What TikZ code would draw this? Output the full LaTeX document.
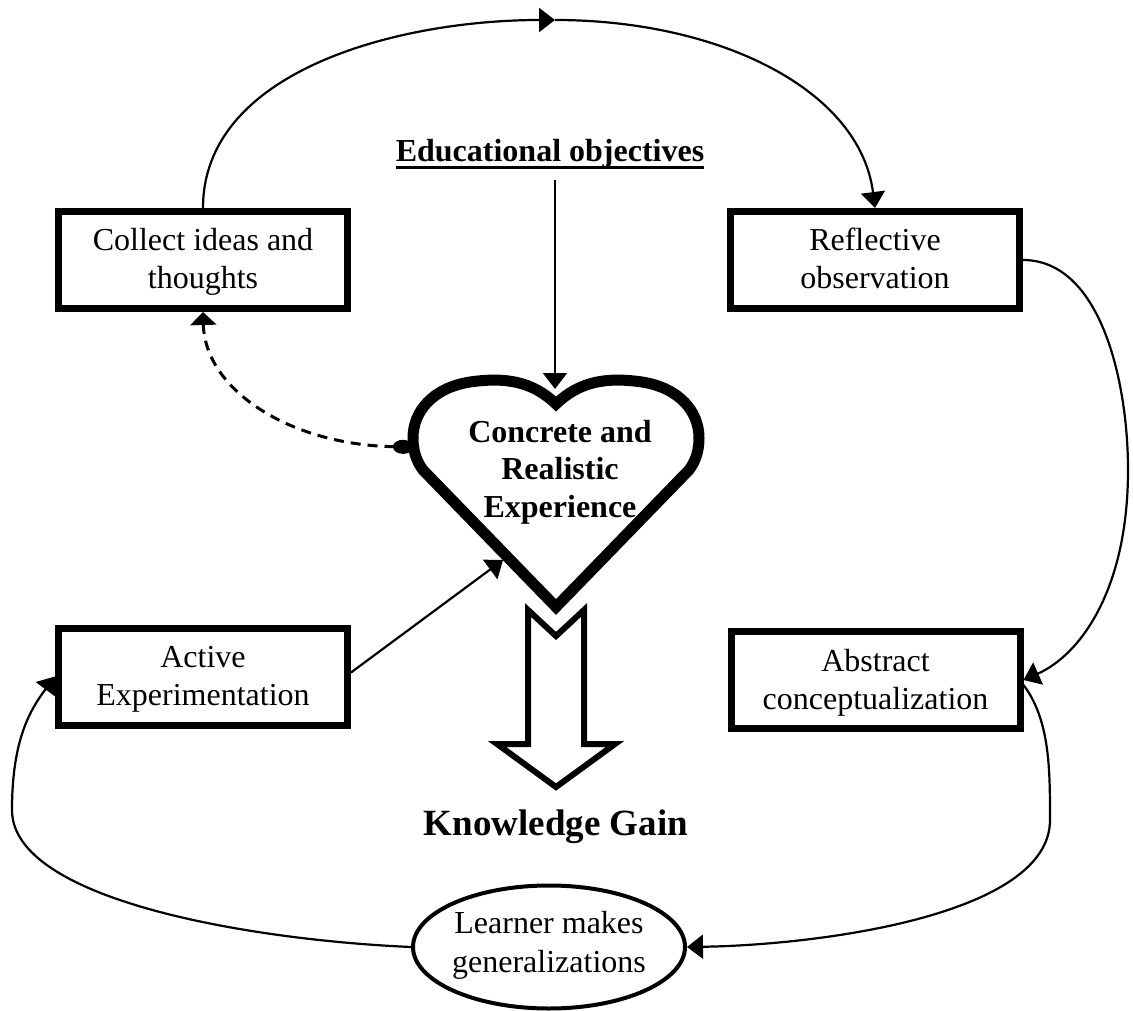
\documentclass[tikz,border=0pt]{standalone}
\usepackage{fontspec}
\setmainfont{Liberation Serif}
\usetikzlibrary{arrows.meta,shapes.geometric}
\begin{document}
\begin{tikzpicture}[x=1pt,y=-1pt,
  box/.style={draw, line width=7pt, rectangle, minimum width=289pt, minimum height=97pt,
    inner sep=0pt, text width=280pt, align=flush center, text height=20pt, text depth=38pt,
    font=\fontsize{32}{38}\selectfont},
  conn/.style={line width=2.2pt, -{Triangle[length=16pt,width=24pt]}},
  dashconn/.style={line width=3pt, dash pattern=on 10pt off 7pt,
    {Ellipse[length=20pt,width=14pt]}-{Triangle[length=13pt,width=26pt]}},
  boldtext/.style={font=\bfseries\fontsize{32}{37.5}\selectfont, inner sep=0pt},
]
\useasboundingbox (0,0) rectangle (1133,1011);

% boxes
\node[box] (collect) at (203,260) {Collect ideas and\\thoughts};
\node[box] (refl) at (875,260) {Reflective\\observation};
\node[box] (act) at (203,676.5) {Active\\Experimentation};
\node[box] (abs) at (875.5,680) {Abstract\\conceptualization};

% ellipse
\node[ellipse, draw, line width=4pt, minimum width=272pt, minimum height=123pt,
  inner xsep=-40pt, inner ysep=-20pt, text width=220pt, align=flush center,
  text height=20pt, text depth=48pt, font=\fontsize{32}{39}\selectfont]
  (learn) at (549,947) {Learner makes\\generalizations};

% heart
\draw[line width=11pt, line join=miter, fill=white]
  (556,404) .. controls (532,381) and (505,377) .. (470,382)
  .. controls (432,388) and (413,412) .. (413,438)
  .. controls (413,452) and (417,462) .. (423,470)
  -- (556,607) -- (689,470)
  .. controls (695,462) and (699,452) .. (699,438)
  .. controls (699,412) and (680,388) .. (642,382)
  .. controls (607,377) and (580,381) .. (556,404) -- cycle;
\node[boldtext, text width=220pt, align=flush center, anchor=base] (heart) at (560,442)
  {Concrete and\\Realistic\\Experience};

% block arrow
\draw[line width=6pt, line join=miter, fill=white]
  (528,610) -- (556,636) -- (584,610) -- (584,744) -- (615,744) -- (556,787)
  -- (497,744) -- (528,744) -- cycle;

% texts
\node[boldtext, anchor=base] (edu) at (550,162) {Educational objectives};
\draw[line width=3pt] ([yshift=-6pt]edu.base west) -- ([yshift=-6pt]edu.base east);
\node[font=\bfseries\fontsize{37}{44}\selectfont, inner sep=0pt, anchor=base] (kg) at (556,835) {Knowledge Gain};

% coordinates
\coordinate (edustart) at (555,180);
\coordinate (heartdip) at (555,389);
\coordinate (heartleft) at (413,447);
\coordinate (heartin) at (503,560);
\coordinate (top) at (555,20);

% connectors
\draw[conn] (edustart) -- (heartdip);
\draw[conn] (collect.north) .. controls (203,70) and (400,20) .. (top);
\draw[conn] (top) .. controls (720,20) and (860,90) .. (refl.north);
\draw[conn] (refl.east) .. controls (1100,260) and (1128,380) .. (1128,470)
  .. controls (1128,590) and (1080,655) .. (abs.east);
\draw[conn] ([yshift=-5pt]abs.east) .. controls (1050,720) and (1050,770) .. (1050,820)
  .. controls (1050,915) and (820,945) .. (learn.east);
\draw[conn] (learn.west) .. controls (250,940) and (12,900) .. (12,810)
  .. controls (12,740) and (30,710) .. (act.west);
\draw[conn] ([yshift=4pt]act.east) -- (heartin);
\draw[dashconn] (heartleft) .. controls (290,445) and (205,390) .. (collect.south);
\end{tikzpicture}
\end{document}
